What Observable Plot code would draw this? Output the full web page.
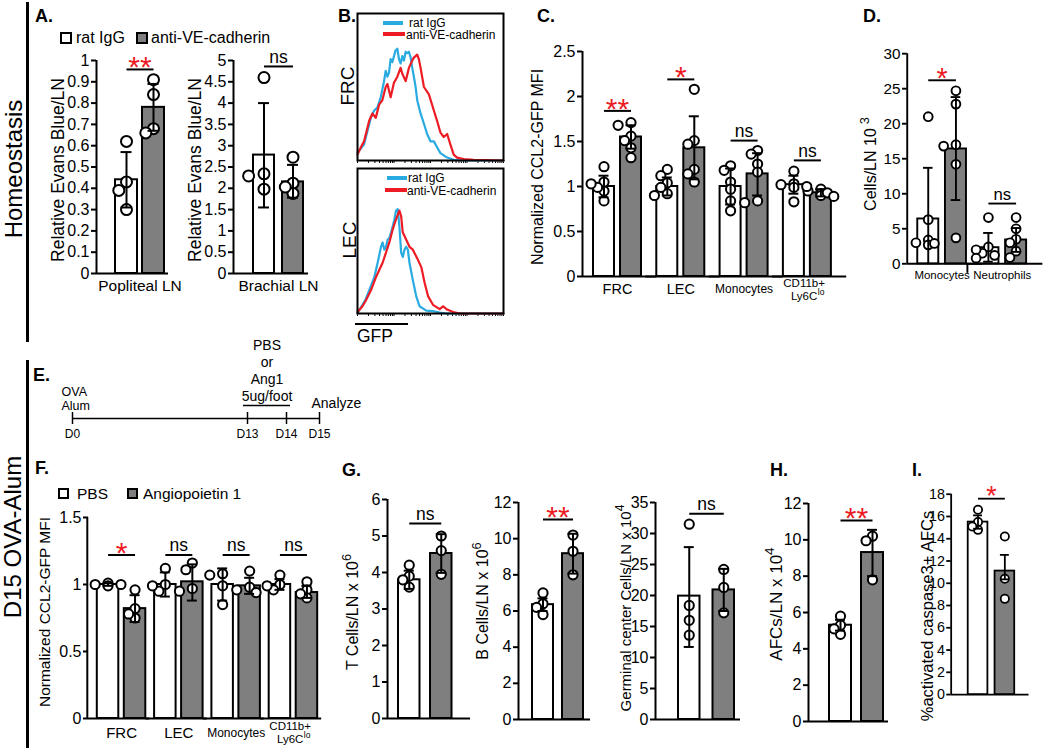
<!DOCTYPE html>
<html><head><meta charset="utf-8">
<script src="https://cdn.jsdelivr.net/npm/d3@7"></script>
<script src="https://cdn.jsdelivr.net/npm/@observablehq/plot@0.6"></script>
<style>
html,body{margin:0;padding:0;background:#fff;}
#fig{position:relative;width:1050px;height:748px;overflow:hidden;background:#fff;font-family:"Liberation Sans",Arial,Helvetica,sans-serif;color:#000;}
#fig .t{position:absolute;white-space:nowrap;line-height:1;transform:translateY(-50%);}
#fig .r{transform:translate(-50%,-50%) rotate(-90deg);}
#fig .box{position:absolute;box-sizing:border-box;border:2px solid #000;}
#fig .bar{position:absolute;background:#000;}
#fig sup{font-size:0.8em;vertical-align:0.55em;line-height:0;}
</style></head>
<body><div id="fig"></div>
<script>
const FONT = '"Liberation Sans", Arial, Helvetica, sans-serif';
const GREY = "#7f7f7f", RED = "#ed1c24", BLUE = "#29abe2";

// ---------------- DATA ----------------
const A_legend = ["rat IgG", "anti-VE-cadherin"];
const F_legend = ["PBS", "Angiopoietin 1"];

// Panel A (Evans blue)
const A1_groups = ["Popliteal LN"];
const A1_mean = [[0.44, 0.78]];
const A1_errLow = [[0.31, 0.67]];
const A1_errHigh = [[0.57, 0.89]];
const A1_points = [[[0.62, 0.43, 0.39, 0.30], [0.91, 0.84, 0.68, 0.66]]];
const A1_sigLabel = ["**"];
const A1_sigY = [0.958];
const A1_ticks = [0, 0.1, 0.2, 0.3, 0.4, 0.5, 0.6, 0.7, 0.8, 0.9, 1];

const A2_groups = ["Brachial LN"];
const A2_mean = [[2.78, 2.15]];
const A2_errLow = [[1.55, 1.78]];
const A2_errHigh = [[4.0, 2.55]];
const A2_points = [[[4.6, 2.34, 2.29, 1.98], [2.73, 2.12, 2.03, 1.88]]];
const A2_sigLabel = ["ns"];
const A2_sigY = [4.86];
const A2_ticks = [0, 0.5, 1, 1.5, 2, 2.5, 3, 3.5, 4, 4.5, 5];

// Panel B (histograms: [GFP channel %, count % of max])
const B_FRC_ratIgG = [[0,5.3],[4.5,11],[9.1,29],[11.4,34],[13.6,36],[15.9,43],[18.2,54],[19.3,61],[20.5,57],[21.6,60],[22.7,69],[23.9,67],[25,71],[26.1,75],[27.3,76],[28.4,69],[29.5,66],[30.7,71],[31.8,68],[33,74],[34.1,73],[35.2,74],[36.4,70],[37.5,63],[38.6,57],[39.8,50],[40.9,41],[43.2,32],[45.5,25],[47.7,18],[50,13],[52.3,13],[54.5,9],[56.8,5],[61.4,2],[65.9,0.5],[70.5,0],[100,0]];
const B_FRC_antiVE = [[0,4],[2.3,9],[4.5,13],[8,27],[10.2,32],[12.5,29],[14.8,38],[17,41],[19.3,50],[20.5,52],[22.7,43],[25,53],[27.3,57],[29.5,63],[30.7,59],[33,54],[35.2,63],[37.5,68],[38.6,70],[40.9,72],[42,69],[43.2,63],[45.5,50],[48.9,45],[52.3,34],[54.5,27],[56.8,19],[59.1,16],[61.4,18],[63.6,11],[65.9,4],[68.2,2],[72.7,1],[79.5,0.5],[100,0]];
const B_LEC_ratIgG = [[0,0],[1,2],[3.4,6],[5.7,10],[9.2,19],[11.5,25],[13.8,35],[16.1,46],[17.2,49],[18.4,44],[19.5,46],[20.7,51],[21.8,52],[23,56],[24.1,60],[25.3,65],[26.4,71],[27.6,72],[28.7,60],[29.9,42],[31,39],[32.2,44],[33.3,46],[34.5,44],[35.6,35],[37.9,23],[40.2,12],[42.5,5],[47.1,2],[51.7,1.6],[56.3,0.7],[61,0],[100,0]];
const B_LEC_antiVE = [[0,1],[3.4,5],[5.7,9],[9.2,16],[12.6,25],[14.9,30],[17.2,35],[19.5,42],[21.8,49],[24.1,58],[26.4,65],[28.7,71],[29.9,67],[31,56],[33.3,51],[35.6,46],[37.9,44],[41.4,37],[43.7,32],[46,21],[48.3,12],[51.7,6],[56.3,3],[58.6,5],[61,3],[65.5,1],[70.1,0],[100,0]];
const B_ticks = [0,7.5,11.9,15.1,17.5,19.5,21.1,22.6,23.9,25,32.5,36.9,40.1,42.5,44.5,46.1,47.6,48.9,50,57.5,61.9,65.1,67.5,69.5,71.1,72.6,73.9,75,82.5,86.9,90.1,92.5,94.5,96.1,97.6,98.9,100];

// Panel C
const C_groups = ["FRC", "LEC", "Monocytes", "CD11b+ Ly6Clo"];
const C_labels = ["FRC", "LEC", "Monocytes", "CD11b+\nLy6C"];
const C_labelSup = ["", "", "", "lo"];
const C_mean = [[1.00, 1.55], [1.00, 1.43], [1.00, 1.14], [1.02, 0.93]];
const C_errLow = [[0.88, 1.42], [0.90, 1.08], [0.80, 0.90], [0.92, 0.89]];
const C_errHigh = [[1.12, 1.68], [1.10, 1.78], [1.20, 1.37], [1.12, 0.97]];
const C_points = [
  [[1.22, 1.05, 1.03, 0.99, 0.95, 0.84], [1.71, 1.68, 1.56, 1.51, 1.43, 1.32]],
  [[1.19, 1.12, 1.04, 0.99, 0.92, 0.90], [2.08, 1.51, 1.47, 1.19, 1.14, 1.05]],
  [[1.23, 1.18, 1.05, 0.97, 0.84, 0.73], [1.40, 1.36, 1.25, 1.16, 0.84, 0.82]],
  [[1.17, 1.03, 1.02, 1.00, 0.99, 0.83], [0.97, 0.95, 0.93, 0.92, 0.90, 0.89]]];
const C_sigLabel = ["**", "*", "ns", "ns"];
const C_sigY = [1.84, 2.19, 1.51, 1.29];
const C_ticks = [0, 0.5, 1, 1.5, 2, 2.5];

// Panel D
const D_groups = ["Monocytes", "Neutrophils"];
const D_mean = [[6.4, 16.4], [2.3, 3.4]];
const D_errLow = [[0, 9.1], [0.3, 1.7]];
const D_errHigh = [[13.7, 23.8], [4.4, 5.1]];
const D_points = [
  [[21.0, 6.3, 3.4, 3.0, 2.9, 2.7], [24.7, 22.8, 17.0, 16.8, 14.2, 3.7]],
  [[6.6, 2.4, 2.0, 1.5, 1.2, 0.8], [6.6, 5.0, 3.5, 3.0, 1.8, 0.9]]];
const D_sigLabel = ["*", "ns"];
const D_sigY = [26.2, 8.6];
const D_ticks = [0, 5, 10, 15, 20, 25, 30];

// Panel E (timeline)
const E_days = [0, 13, 14, 15];
const E_dayLabels = ["D0", "D13", "D14", "D15"];
const E_events = ["OVA\nAlum", "PBS\nor\nAng1\n5ug/foot", "Analyze"];
const E_eventDays = [0, 13.5, 15];
const E_treatDays = [13, 14];

// Panel F
const F_groups = ["FRC", "LEC", "Monocytes", "CD11b+ Ly6Clo"];
const F_labels = ["FRC", "LEC", "Monocytes", "CD11b+\nLy6C"];
const F_labelSup = ["", "", "", "lo"];
const F_mean = [[1.00, 0.82], [1.00, 1.02], [1.00, 0.99], [1.00, 0.94]];
const F_errLow = [[0.99, 0.72], [0.91, 0.88], [0.88, 0.93], [0.96, 0.90]];
const F_errHigh = [[1.01, 0.92], [1.09, 1.15], [1.12, 1.05], [1.04, 0.99]];
const F_points = [
  [[1.01, 1.00, 1.00, 0.99], [0.96, 0.82, 0.78, 0.75]],
  [[1.12, 1.00, 0.99, 0.95], [1.16, 1.11, 0.97, 0.95]],
  [[1.08, 1.07, 0.99, 0.85], [1.10, 0.98, 0.96, 0.94]],
  [[1.07, 1.00, 0.99, 0.96], [1.02, 0.96, 0.93, 0.90]]];
const F_sigLabel = ["*", "ns", "ns", "ns"];
const F_sigY = [1.22, 1.22, 1.22, 1.22];
const F_ticks = [0, 0.5, 1, 1.5];

// Panel G
const G1_mean = [[3.80, 4.52]], G1_errLow = [[3.55, 3.99]], G1_errHigh = [[4.05, 5.05]];
const G1_points = [[[4.20, 3.90, 3.80, 3.60], [5.00, 4.60, 3.95]]];
const G1_sigLabel = ["ns"], G1_sigY = [5.34];
const G1_ticks = [0, 1, 2, 3, 4, 5, 6];
const G2_mean = [[6.35, 9.17]], G2_errLow = [[6.00, 8.07]], G2_errHigh = [[6.70, 10.27]];
const G2_points = [[[7.00, 6.40, 6.20, 5.80], [10.20, 9.30, 8.00]]];
const G2_sigLabel = ["**"], G2_sigY = [11.06];
const G2_ticks = [0, 2, 4, 6, 8, 10, 12];
const G3_mean = [[19.9, 20.9]], G3_errLow = [[11.7, 17.5]], G3_errHigh = [[27.8, 24.3]];
const G3_points = [[[31.5, 18.4, 16.0, 13.6], [24.2, 21.3, 17.2]]];
const G3_sigLabel = ["ns"], G3_sigY = [33.2];
const G3_ticks = [0, 5, 10, 15, 20, 25, 30, 35];

// Panel H
const H_mean = [[5.3, 9.3]], H_errLow = [[5.0, 8.0]], H_errHigh = [[5.6, 10.55]];
const H_points = [[[5.8, 5.3, 5.1, 4.8], [10.2, 9.95, 7.8]]];
const H_sigLabel = ["**"], H_sigY = [11.06];
const H_ticks = [0, 2, 4, 6, 8, 10, 12];

// Panel I
const I_mean = [[15.5, 11.1]], I_errLow = [[14.9, 10.35]], I_errHigh = [[16.1, 12.55]];
const I_points = [[[16.6, 15.5, 15.1, 14.8], [14.2, 10.4, 8.6]]];
const I_sigLabel = ["*"], I_sigY = [17.6];
const I_ticks = [0, 2, 4, 6, 8, 10, 12, 14, 16, 18];

// ---------------- HELPERS ----------------
const fig = document.getElementById("fig");
const TRT = ["a", "b"];
const OFFSETS = [0, -1, 1, -2, 2];
const STYLE = {fontFamily: FONT, fontSize: "14px", overflow: "visible", background: "transparent", color: "black"};
const TICK_FONT = 16;

function place(node, left, top) {
  const d = document.createElement("div");
  d.style.cssText = `position:absolute;left:${left}px;top:${top}px;`;
  d.appendChild(node);
  fig.appendChild(d);
}
function T(html, x, cy, size, cls = "", extra = "") {
  const d = document.createElement("div");
  d.className = "t " + cls;
  d.style.cssText = `left:${x}px;top:${cy}px;font-size:${size}px;${extra}`;
  d.innerHTML = html;
  fig.appendChild(d);
}
function R(html, cx, cy, size) { T(html, cx, cy, size, "r"); }
function box(x, y, s, fill) {
  const d = document.createElement("div");
  d.className = "box";
  d.style.cssText = `left:${x}px;top:${y}px;width:${s}px;height:${s}px;background:${fill};`;
  fig.appendChild(d);
}
function rect(x, y, w, h, color) {
  const d = document.createElement("div");
  d.className = "bar";
  d.style.cssText = `left:${x}px;top:${y}px;width:${w}px;height:${h}px;background:${color};`;
  fig.appendChild(d);
}

// deterministic horizontal spreading of overlapping points
function swarm(vals, k, r) {
  const placed = [];
  const stepPx = r * 1.4, minD = r * 1.55;
  for (const v of vals) {
    const py = v * k;
    let o = OFFSETS.find(o => placed.every(p => Math.hypot((o - p.o) * stepPx, py - p.py) >= minD));
    if (o === undefined) o = 0;
    placed.push({v, py, o});
  }
  return placed;
}

function barPanel(c) {
  const n = c.groups.length;
  const Wf = (c.x1 - c.x0) / n;
  const step = c.bw + c.gap;
  const pIn = c.gap / step;
  const pOut = (Wf / step - 2 + pIn) / 2;
  const align = Math.max(0, Math.min(1, c.leftGap / (Wf - 2 * c.bw - c.gap)));
  const mL = 50, mR = 24, mT = 40, mB = 40;
  const H = c.yBot - c.yTop;
  const k = H / c.yMax;
  const bars = [], dots = [];
  c.groups.forEach((g, i) => TRT.forEach((t, j) => {
    bars.push({g, t, m: c.mean[i][j], lo: c.lo[i][j], hi: c.hi[i][j]});
    swarm(c.points[i][j], k, c.r).forEach(p => dots.push({g, t, v: p.v, o: p.o}));
  }));
  const sig = c.groups.map((g, i) => ({g, label: c.sigLabel[i], y: c.sigY[i]}));
  const half = step / 2;
  const capIn = (c.bw - c.cap) / 2;
  const toLeft = -(c.leftGap + c.bw / 2);
  const eb = bars.filter(d => d.hi > d.lo);
  const g0 = c.groups[0];
  const tk = c.ticks.map(v => ({g: g0, v}));
  const marks = [
    // axes (drawn with the y scale, in the first facet only)
    Plot.ruleY([0], {strokeWidth: 2, insetRight: -(c.extend || 0)}),
    Plot.ruleX([{g: g0}], {fx: "g", x: () => "a", dx: toLeft, y1: () => 0, y2: () => c.yMax, strokeWidth: 2}),
    Plot.ruleY(tk, {fx: "g", y: "v", insetLeft: -5, insetRight: Wf, strokeWidth: 2}),
    Plot.text(tk, {fx: "g", y: "v", text: d => String(d.v), frameAnchor: "left", dx: -7, textAnchor: "end", lineAnchor: "middle", fontSize: TICK_FONT}),
    // bars, points, error bars
    Plot.barY(bars.filter(d => d.t === "a"), {fx: "g", x: "t", y: "m", fill: "white", stroke: "black", strokeWidth: 2}),
    Plot.barY(bars.filter(d => d.t === "b"), {fx: "g", x: "t", y: "m", fill: GREY, stroke: "black", strokeWidth: 2}),
    ...OFFSETS.map(o => Plot.dot(dots.filter(d => d.o === o), {fx: "g", x: "t", y: "v", r: c.r, fill: "white", stroke: "black", strokeWidth: 2, dx: o * c.r * 1.4})),
    Plot.ruleX(eb, {fx: "g", x: "t", y1: "lo", y2: "hi", strokeWidth: 2}),
    Plot.tickY(eb, {fx: "g", x: "t", y: "hi", insetLeft: capIn, insetRight: capIn, strokeWidth: 2}),
    Plot.tickY(eb.filter(d => d.lo > 0), {fx: "g", x: "t", y: "lo", insetLeft: capIn, insetRight: capIn, strokeWidth: 2}),
    // significance
    Plot.link(sig, {fx: "g", x1: () => "a", x2: () => "b", y1: "y", y2: "y", strokeWidth: 2}),
    Plot.text(sig.filter(d => d.label.includes("*")), {fx: "g", x: () => "a", y: "y", text: "label", dx: half, dy: -2, fontSize: 30, fill: RED, lineAnchor: "middle"}),
    Plot.text(sig.filter(d => d.label === "ns"), {fx: "g", x: () => "a", y: "y", text: "label", dx: half, dy: -9.5, fontSize: 17.5, lineAnchor: "middle"})
  ];
  if (c.labels) c.groups.forEach((g, i) => {
    const hasSup = c.sups && c.sups[i];
    const sh = hasSup ? -3.3 : 0;
    marks.push(Plot.text([g], {fx: d => d, x: () => "a", frameAnchor: "bottom", text: () => c.labels[i], dx: half + sh, dy: c.labelDy, lineAnchor: "middle", fontSize: c.labelSizes[i], lineHeight: 1.12}));
    if (hasSup) marks.push(Plot.text([g], {fx: d => d, x: () => "a", frameAnchor: "bottom", text: () => c.sups[i], dx: half + sh + 13.7, dy: c.labelDy + 6, textAnchor: "start", lineAnchor: "bottom", fontSize: 8.5}));
  });
  if (c.divider) marks.push(Plot.ruleX(c.groups.slice(1), {fx: d => d, x: () => "a", y1: () => 0, y2: () => 0, dx: toLeft, insetTop: 0, insetBottom: -10, strokeWidth: 2}));
  const p = Plot.plot({
    width: (c.x1 - c.x0) + mL + mR, height: H + mT + mB,
    marginLeft: mL, marginRight: mR, marginTop: mT, marginBottom: mB,
    style: STYLE,
    fx: {domain: c.groups, paddingInner: 0, paddingOuter: 0, axis: null, round: false, label: null},
    x: {domain: TRT, paddingInner: pIn, paddingOuter: pOut, align, axis: null, round: false},
    y: {domain: [0, c.yMax], axis: null},
    marks
  });
  place(p, c.x0 - mL, c.yTop - mT);
}

function histPanel(c) {
  const mL = 1, mR = 1, mT = 1, mB = 8;
  const W = c.x1 - c.x0, H = c.yBot - c.yTop;
  const p = Plot.plot({
    width: W + mL + mR, height: H + mT + mB,
    marginLeft: mL, marginRight: mR, marginTop: mT, marginBottom: mB,
    style: STYLE,
    x: {domain: [0, 100], ticks: B_ticks, tickFormat: () => "", tickSize: 3, label: null},
    y: {domain: [0, 100], axis: null},
    marks: [
      Plot.line(c.blue, {x: d => d[0], y: d => d[1], stroke: BLUE, strokeWidth: 2.2}),
      Plot.line(c.red, {x: d => d[0], y: d => d[1], stroke: RED, strokeWidth: 2.2}),
      Plot.frame({stroke: "black", strokeWidth: 2})
    ]
  });
  place(p, c.x0 - mL, c.yTop - mT);
}

function timeline() {
  const top = 330, yLine = 418 - top;
  const p = Plot.plot({
    width: 400, height: 130, margin: 0,
    style: STYLE,
    x: {type: "linear", domain: E_days, range: [72, 247, 286, 319], axis: null},
    y: {domain: [0, 1], range: [yLine, yLine - 50], axis: null},
    marks: [
      Plot.ruleY([0], {x1: () => E_days[0], x2: () => E_days[E_days.length - 1], strokeWidth: 1.5}),
      Plot.ruleX(E_days, {x: d => d, y1: () => 0, y2: () => 0, insetTop: -6, insetBottom: -6, strokeWidth: 1.5}),
      Plot.text(E_days, {x: d => d, y: () => 0, text: (d, i) => E_dayLabels[i], dy: 16, fontSize: 12, lineAnchor: "middle"}),
      Plot.ruleY([0], {x1: () => E_treatDays[0], x2: () => E_treatDays[1], dy: -13, insetLeft: -4, insetRight: -4, strokeWidth: 1.5}),
      Plot.text([0], {x: () => E_eventDays[0], y: () => 0, text: () => E_events[0], textAnchor: "start", dx: -11, dy: -9, lineAnchor: "bottom", fontSize: 12.5, lineHeight: 1.12}),
      Plot.text([0], {x: () => E_eventDays[1], y: () => 0, text: () => E_events[1], dy: -18, lineAnchor: "bottom", fontSize: 14, lineHeight: 1.2}),
      Plot.text([0], {x: () => E_eventDays[2], y: () => 0, text: () => E_events[2], textAnchor: "start", dx: -8, dy: -11, lineAnchor: "bottom", fontSize: 14})
    ]
  });
  place(p, 0, top);
}

// ---------------- BUILD ----------------
// A
barPanel({groups: A1_groups, labels: A1_groups, labelSizes: [15.5], labelDy: 12, mean: A1_mean, lo: A1_errLow, hi: A1_errHigh, points: A1_points,
  sigLabel: A1_sigLabel, sigY: A1_sigY, ticks: A1_ticks, yMax: 1, x0: 96, x1: 168, yTop: 60, yBot: 273, bw: 22, gap: 5, leftGap: 19, r: 5.5, cap: 11});
barPanel({groups: A2_groups, labels: A2_groups, labelSizes: [15.5], labelDy: 12, mean: A2_mean, lo: A2_errLow, hi: A2_errHigh, points: A2_points,
  sigLabel: A2_sigLabel, sigY: A2_sigY, ticks: A2_ticks, yMax: 5, x0: 233, x1: 308, yTop: 60, yBot: 273, bw: 21, gap: 8, leftGap: 20, r: 5.5, cap: 11});
// B
histPanel({x0: 357, x1: 503, yTop: 13, yBot: 160, blue: B_FRC_ratIgG, red: B_FRC_antiVE});
histPanel({x0: 357, x1: 503, yTop: 168, yBot: 313, blue: B_LEC_ratIgG, red: B_LEC_antiVE});
// C
barPanel({groups: C_groups, labels: C_labels, sups: C_labelSup, labelSizes: [14.5, 14.5, 12, 11.5], labelDy: 12.5, mean: C_mean, lo: C_errLow, hi: C_errHigh, points: C_points,
  sigLabel: C_sigLabel, sigY: C_sigY, ticks: C_ticks, yMax: 2.5, x0: 582, x1: 835.2, extend: 11, yTop: 51, yBot: 276, bw: 21, gap: 6, leftGap: 11, r: 4.6, cap: 10});
// D
barPanel({groups: D_groups, labels: D_groups, labelSizes: [12, 12], labelDy: 12, mean: D_mean, lo: D_errLow, hi: D_errHigh, points: D_points, divider: true,
  sigLabel: D_sigLabel, sigY: D_sigY, ticks: D_ticks, yMax: 30, x0: 909, x1: 1035, extend: 16, yTop: 55, yBot: 275, bw: 22, gap: 7, leftGap: 11, r: 4.6, cap: 10});
// E
timeline();
// F
barPanel({groups: F_groups, labels: F_labels, sups: F_labelSup, labelSizes: [15, 15, 12, 11.5], labelDy: 14, mean: F_mean, lo: F_errLow, hi: F_errHigh, points: F_points,
  sigLabel: F_sigLabel, sigY: F_sigY, ticks: F_ticks, yMax: 1.5, x0: 88, x1: 317.2, extend: 4, yTop: 517, yBot: 718, bw: 21.5, gap: 5.5, leftGap: 10, r: 4.6, cap: 10});
// G
barPanel({groups: ["T"], mean: G1_mean, lo: G1_errLow, hi: G1_errHigh, points: G1_points, sigLabel: G1_sigLabel, sigY: G1_sigY, ticks: G1_ticks,
  yMax: 6, x0: 387, x1: 470, yTop: 499, yBot: 718, bw: 21.5, gap: 10.5, leftGap: 11, r: 4.6, cap: 10});
barPanel({groups: ["B"], mean: G2_mean, lo: G2_errLow, hi: G2_errHigh, points: G2_points, sigLabel: G2_sigLabel, sigY: G2_sigY, ticks: G2_ticks,
  yMax: 12, x0: 518, x1: 590, yTop: 502, yBot: 719, bw: 21, gap: 9, leftGap: 14, r: 4.6, cap: 10});
barPanel({groups: ["GC"], mean: G3_mean, lo: G3_errLow, hi: G3_errHigh, points: G3_points, sigLabel: G3_sigLabel, sigY: G3_sigY, ticks: G3_ticks,
  yMax: 35, x0: 655, x1: 740, yTop: 502, yBot: 719, bw: 21.5, gap: 13, leftGap: 23, r: 4.6, cap: 10});
// H
barPanel({groups: ["AFC"], mean: H_mean, lo: H_errLow, hi: H_errHigh, points: H_points, sigLabel: H_sigLabel, sigY: H_sigY, ticks: H_ticks,
  yMax: 12, x0: 808, x1: 888, yTop: 503, yBot: 721, bw: 22, gap: 10, leftGap: 21, r: 4.6, cap: 10});
// I
barPanel({groups: ["casp"], mean: I_mean, lo: I_errLow, hi: I_errHigh, points: I_points, sigLabel: I_sigLabel, sigY: I_sigY, ticks: I_ticks,
  yMax: 18, x0: 956, x1: 1043, yTop: 498, yBot: 722, bw: 22, gap: 8, leftGap: 19, r: 4.6, cap: 10});

// ---------------- TEXT & DECOR ----------------
rect(25.5, 2, 3.5, 340, "#000");
rect(25.5, 360, 3.5, 388, "#000");
R("Homeostasis", 14, 169, 24);
R("D15 OVA-Alum", 13, 537, 24);

const LB = "font-weight:bold";
T("A.", 35, 16, 18, "", LB);
T("B.", 338, 16, 18, "", LB);
T("C.", 537, 16, 18, "", LB);
T("D.", 863, 16, 18, "", LB);
T("E.", 33, 375, 18, "", LB);
T("F.", 35, 468, 18, "", LB);
T("G.", 342, 470, 18, "", LB);
T("H.", 770, 470, 18, "", LB);
T("I.", 912, 470, 18, "", LB);

// A legend
box(60, 32, 12, "#fff"); T(A_legend[0], 76, 38, 16);
box(136, 32, 12, GREY); T(A_legend[1], 151, 38, 16);
// F legend
box(58, 488, 11, "#fff"); T(F_legend[0], 77, 493.5, 15.5);
box(127, 488, 11, GREY); T(F_legend[1], 143, 493.5, 15.5);

// B legends & labels
rect(383, 21, 20, 4, BLUE); T(A_legend[0], 409, 22.5, 12);
rect(383, 32, 22, 4, RED); T(A_legend[1], 406, 34.5, 12);
rect(387, 176, 20, 4, BLUE); T(A_legend[0], 408, 177.5, 12);
rect(385, 188, 22, 4, RED); T(A_legend[1], 407, 190.5, 12);
R("FRC", 347, 86, 19);
R("LEC", 349, 240, 19);
rect(355, 323, 53, 2, "#000");
T("GFP", 357, 337, 17.5);

// y-axis titles
R("Relative Evans Blue/LN", 59, 170, 17.5);
R("Relative Evans Blue/LN", 196, 170, 17.5);
R("Normalized CCL2-GFP MFI", 538, 167, 16);
R("Cells/LN 10<sup style='margin-left:4px'>3</sup>", 871, 164, 16);
R("Normalized CCL2-GFP MFI", 45, 612, 15.5);
R("T Cells/LN x 10<sup>6</sup>", 353, 612, 16);
R("B Cells/LN x 10<sup>6</sup>", 483, 601, 16);
R("Germinal center Cells/LN x 10<sup>4</sup>", 625, 608, 15);
R("AFCs/LN x 10<sup>4</sup>", 776, 604, 17);
R("%activated caspase3+ AFCs", 927, 616, 16.5);
</script></body></html>
